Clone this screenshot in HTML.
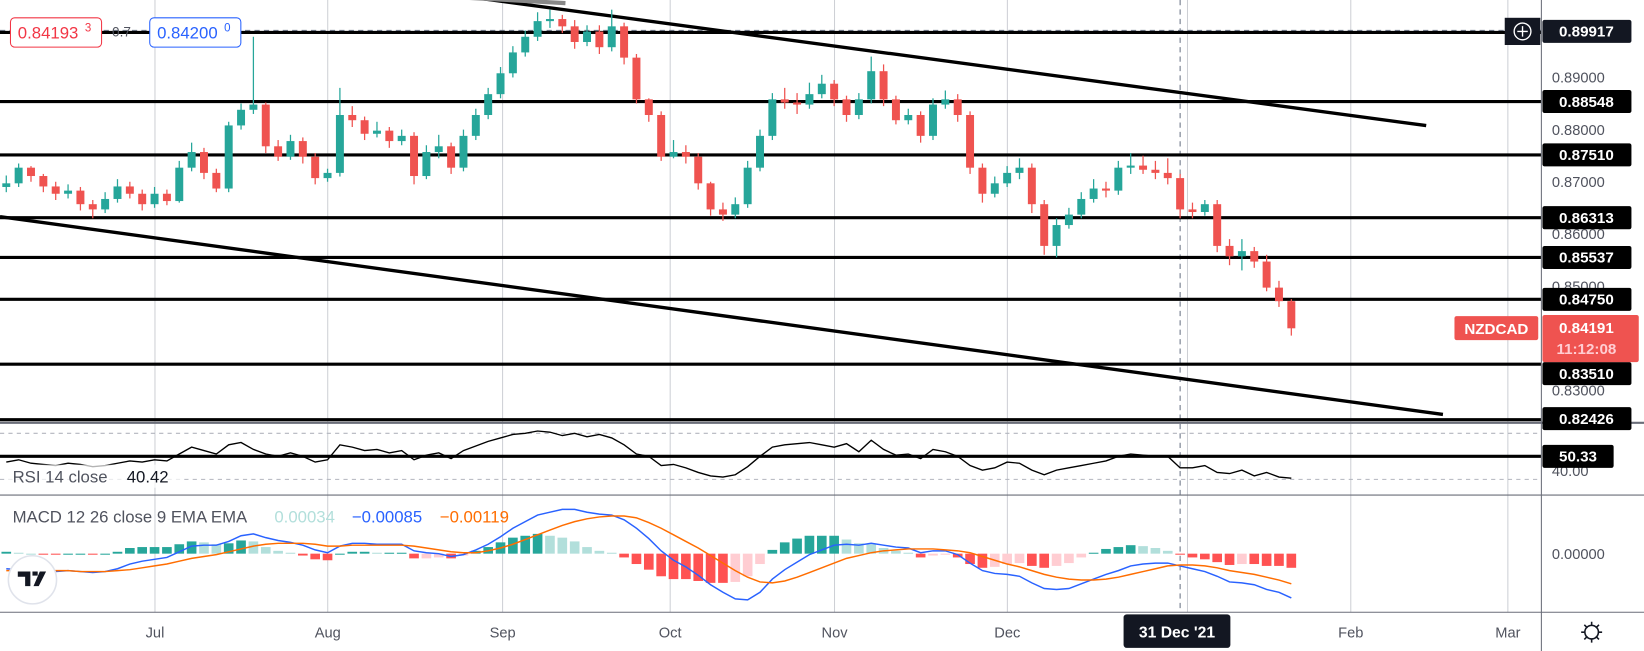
<!DOCTYPE html>
<html><head><meta charset="utf-8"><style>
html,body{margin:0;padding:0;background:#fff;overflow:hidden}
svg{display:block}
text{font-family:"Liberation Sans",sans-serif}
</style></head><body>
<svg id="chart" width="1644" height="651" viewBox="0 0 1570 622" preserveAspectRatio="none" xmlns="http://www.w3.org/2000/svg">
<g id="grid"></g>
<g id="drawings"></g>
<g id="candles"></g>
<g id="rsi"></g>
<g id="macd"></g>
<g id="axes"></g>
</svg>
<script>
const closes=[0.8697,0.8727,0.8711,0.8691,0.8677,0.8683,0.8657,0.8647,0.8667,0.8691,0.8677,0.8657,0.8677,0.8663,0.8727,0.8757,0.8717,0.8687,0.8808,0.8838,0.8848,0.8768,0.8748,0.8778,0.8748,0.8707,0.8717,0.8828,0.8818,0.8792,0.8798,0.8778,0.8788,0.8711,0.8757,0.8768,0.8727,0.8788,0.8828,0.8868,0.8908,0.8948,0.8978,0.9008,0.9012,0.8998,0.8968,0.8988,0.8958,0.8998,0.8938,0.8858,0.8828,0.8748,0.8757,0.8748,0.8697,0.8647,0.8637,0.8657,0.8727,0.8788,0.8858,0.8852,0.8848,0.8868,0.8888,0.8858,0.8828,0.8858,0.8912,0.8858,0.8818,0.8828,0.8788,0.8848,0.8858,0.8828,0.8727,0.8677,0.8697,0.8717,0.8727,0.8657,0.8577,0.8617,0.8637,0.8667,0.8687,0.8683,0.8727,0.8731,0.8723,0.8717,0.8707,0.8647,0.8642,0.8657,0.8577,0.8557,0.8567,0.8547,0.8497,0.8471,0.8419];
const highs=[0.8712,0.8735,0.8730,0.8715,0.8700,0.8695,0.8690,0.8665,0.8680,0.8705,0.8700,0.8685,0.8690,0.8685,0.8740,0.8775,0.8765,0.8725,0.8815,0.8850,0.8978,0.8852,0.8780,0.8790,0.8785,0.8755,0.8725,0.8880,0.8845,0.8825,0.8815,0.8805,0.8800,0.8795,0.8770,0.8790,0.8775,0.8800,0.8840,0.8880,0.8920,0.8960,0.8990,0.9025,0.9030,0.9020,0.9010,0.9000,0.9000,0.9030,0.9005,0.8945,0.8860,0.8835,0.8780,0.8770,0.8755,0.8700,0.8660,0.8670,0.8740,0.8800,0.8870,0.8880,0.8870,0.8890,0.8905,0.8895,0.8865,0.8870,0.8940,0.8925,0.8865,0.8840,0.8835,0.8860,0.8875,0.8868,0.8835,0.8735,0.8710,0.8730,0.8745,0.8735,0.8665,0.8630,0.8650,0.8680,0.8705,0.8700,0.8740,0.8755,0.8750,0.8740,0.8745,0.8715,0.8660,0.8665,0.8665,0.8590,0.8590,0.8575,0.8560,0.8510,0.8475];
const lows=[0.8680,0.8690,0.8700,0.8680,0.8665,0.8668,0.8645,0.8630,0.8640,0.8660,0.8668,0.8645,0.8650,0.8655,0.8660,0.8720,0.8705,0.8680,0.8680,0.8800,0.8830,0.8755,0.8740,0.8742,0.8735,0.8695,0.8700,0.8710,0.8805,0.8780,0.8785,0.8765,0.8770,0.8695,0.8705,0.8745,0.8715,0.8720,0.8780,0.8820,0.8860,0.8900,0.8940,0.8970,0.8995,0.8985,0.8955,0.8960,0.8945,0.8950,0.8925,0.8850,0.8815,0.8740,0.8745,0.8735,0.8685,0.8635,0.8625,0.8630,0.8650,0.8720,0.8780,0.8840,0.8830,0.8840,0.8860,0.8845,0.8815,0.8820,0.8850,0.8845,0.8810,0.8810,0.8775,0.8780,0.8840,0.8815,0.8715,0.8660,0.8670,0.8690,0.8705,0.8640,0.8560,0.8555,0.8610,0.8630,0.8660,0.8670,0.8675,0.8715,0.8715,0.8705,0.8695,0.8630,0.8630,0.8635,0.8565,0.8540,0.8530,0.8535,0.8490,0.8460,0.8405];
const firstOpen=0.8690;
const rsiValues=[45,47,44,43,42,44,43,41,42,44,46,45,47,46,52,58,55,52,60,62,56,52,50,53,50,45,47,60,58,55,56,53,55,47,51,53,48,55,59,63,66,69,70,72,71,68,70,67,69,66,60,52,50,42,43,40,36,33,32,34,41,50,58,60,61,62,60,58,61,54,64,56,51,52,48,56,54,50,42,38,40,45,44,38,34,38,40,42,44,46,50,52,51,50,50,40,40,42,36,35,38,33,36,32,31];
const macdValues=[-0.0016,-0.0017,-0.0018,-0.0019,-0.0019,-0.0018,-0.0019,-0.0020,-0.0019,-0.0016,-0.0011,-0.0008,-0.0006,-0.0004,0.0002,0.0008,0.0009,0.0009,0.0013,0.0019,0.0021,0.0017,0.0014,0.0012,0.0009,0.0004,0.0001,0.0008,0.0011,0.0011,0.0010,0.0010,0.0010,0.0003,0.0001,0.0000,-0.0003,-0.0001,0.0004,0.0010,0.0018,0.0027,0.0034,0.0041,0.0044,0.0047,0.0047,0.0044,0.0042,0.0041,0.0036,0.0027,0.0016,0.0003,-0.0007,-0.0014,-0.0023,-0.0033,-0.0041,-0.0048,-0.0049,-0.0041,-0.0027,-0.0017,-0.0009,-0.0001,0.0004,0.0009,0.0010,0.0009,0.0011,0.0009,0.0007,0.0006,0.0001,0.0003,0.0003,-0.0001,-0.0010,-0.0018,-0.0021,-0.0022,-0.0024,-0.0031,-0.0037,-0.0038,-0.0037,-0.0032,-0.0027,-0.0022,-0.0018,-0.0013,-0.0011,-0.0010,-0.0010,-0.0013,-0.0016,-0.0019,-0.0024,-0.0030,-0.0031,-0.0033,-0.0038,-0.0041,-0.0047];
const signalValues=[-0.0018,-0.0018,-0.0018,-0.0018,-0.0018,-0.0018,-0.0019,-0.0019,-0.0019,-0.0018,-0.0017,-0.0015,-0.0013,-0.0011,-0.0008,-0.0005,-0.0003,-0.0001,0.0002,0.0005,0.0008,0.0010,0.0011,0.0011,0.0011,0.0010,0.0008,0.0008,0.0009,0.0009,0.0009,0.0009,0.0009,0.0008,0.0006,0.0004,0.0002,0.0001,0.0001,0.0003,0.0006,0.0010,0.0015,0.0020,0.0025,0.0030,0.0034,0.0037,0.0039,0.0040,0.0040,0.0038,0.0033,0.0027,0.0020,0.0013,0.0006,-0.0002,-0.0010,-0.0018,-0.0025,-0.0030,-0.0031,-0.0029,-0.0025,-0.0020,-0.0015,-0.0010,-0.0005,-0.0002,0.0001,0.0003,0.0004,0.0005,0.0005,0.0005,0.0004,0.0003,0.0001,-0.0003,-0.0007,-0.0011,-0.0014,-0.0018,-0.0022,-0.0025,-0.0027,-0.0028,-0.0028,-0.0027,-0.0025,-0.0022,-0.0019,-0.0016,-0.0013,-0.0012,-0.0012,-0.0013,-0.0015,-0.0018,-0.0020,-0.0022,-0.0025,-0.0028,-0.0032];
const levelPrices=["0.89917","0.88548","0.87510","0.86313","0.85537","0.84750","0.83510","0.82426"];
const axisTicks=["0.89000","0.88000","0.87000","0.86000","0.85000","0.83000"];
const monthLabels=["Jul","Aug","Sep","Oct","Nov","Dec","Feb","Mar"];

const NS="http://www.w3.org/2000/svg";
function el(parent,tag,attrs,txt){const e=document.createElementNS(NS,tag);for(const k in attrs)e.setAttribute(k,attrs[k]);if(txt!==undefined)e.textContent=txt;parent.appendChild(e);return e;}
const xOf=i=>6+i*11.8;
const yP=p=>74+(0.89-p)*4983;
const yR=v=>436-(v-50)*1.1;
const yM=v=>529-v*9000;
const monthX={Jul:148,Aug:313,Sep:480,Oct:640,Nov:797,Dec:962,Jan:1134,Feb:1290,Mar:1440};
const G=document.getElementById('grid'),D=document.getElementById('drawings'),C=document.getElementById('candles'),R=document.getElementById('rsi'),M=document.getElementById('macd'),A=document.getElementById('axes');

// grid verticals
for(const m in monthX){const l=el(G,'line',{x1:monthX[m],x2:monthX[m],y1:0,y2:585,stroke:'#c9cbd1','stroke-width':0.9});

}
// crosshair
let ch=el(G,'line',{x1:1127,x2:1127,y1:0,y2:585,stroke:'#6a7385','stroke-width':1,'stroke-dasharray':'5,4'});


ch=el(G,'line',{x1:0,x2:1472,y1:29,y2:29,stroke:'#6a7385','stroke-width':1,'stroke-dasharray':'5,4'});


// RSI band dashed
[70,30].forEach(v=>{const l=el(G,'line',{x1:0,x2:1472,y1:yR(v),y2:yR(v),stroke:'#b2b5be','stroke-width':1,'stroke-dasharray':'4,4'});

});

// candles
for(let i=0;i<closes.length;i++){
 const o=i===0?firstOpen:closes[i-1],c=closes[i],up=c>=o,col=up?'#26a69a':'#ef5350',x=xOf(i);
 const g=el(C,'g',{});
 
 
 el(g,'line',{x1:x,x2:x,y1:yP(highs[i]),y2:yP(lows[i]),stroke:col,'stroke-width':1.2});
 const t=Math.min(yP(o),yP(c)),h=Math.max(1.5,Math.abs(yP(o)-yP(c)));
 el(g,'rect',{x:x-3.8,y:t,width:7.6,height:h,fill:col});
}

// horizontal level lines
const levelY=[31,97,148,208,246,286,348,401];
levelY.forEach((y,k)=>{const l=el(D,'line',{x1:0,x2:1472,y1:y,y2:y,stroke:'#000','stroke-width':3});

});
let tl=el(D,'line',{x1:455,x2:1362,y1:-2,y2:120,stroke:'#000','stroke-width':3.2});


tl=el(D,'line',{x1:0,x2:1378,y1:207,y2:396,stroke:'#000','stroke-width':3.2});


tl=el(D,'line',{x1:430,x2:540,y1:-3,y2:3,stroke:'#888','stroke-width':4});


let rl=el(D,'line',{x1:0,x2:1472,y1:436,y2:436,stroke:'#000','stroke-width':3});



// RSI line
let pts=rsiValues.map((v,i)=>xOf(i)+','+yR(v)).join(' ');
let rp=el(R,'polyline',{points:pts,fill:'none',stroke:'#000','stroke-width':1.3});



// MACD histogram
for(let i=0;i<macdValues.length;i++){
 const h=macdValues[i]-signalValues[i],prev=i?macdValues[i-1]-signalValues[i-1]:h;
 let col;
 if(h>=0)col=h>=prev?'#26a69a':'#b2dfdb';else col=h<=prev?'#ff5252':'#ffcdd2';
 const y0=yM(0),y1=yM(h);
 const b=el(M,'rect',{x:xOf(i)-4.6,y:Math.min(y0,y1),width:9.2,height:Math.max(1,Math.abs(y1-y0)),fill:col});
 
 
}
let mp=el(M,'polyline',{points:macdValues.map((v,i)=>xOf(i)+','+yM(v)).join(' '),fill:'none',stroke:'#2962ff','stroke-width':1.4});


mp=el(M,'polyline',{points:signalValues.map((v,i)=>xOf(i)+','+yM(v)).join(' '),fill:'none',stroke:'#ff6d00','stroke-width':1.4});



// pane separators
[[0,404,1570,404],[0,473,1570,473],[0,585,1570,585],[1472,0,1472,622]].forEach((s,k)=>{
 const l=el(A,'line',{x1:s[0],y1:s[1],x2:s[2],y2:s[3],stroke:'#6a6d78','stroke-width':k===0?2:1});
 
 });

// axis ticks
axisTicks.forEach(t=>{const tx=el(A,'text',{x:1482,y:yP(parseFloat(t))+5,'font-size':14,fill:'#50535e'},t);

});
let z=el(A,'text',{x:1482,y:534,'font-size':14,fill:'#50535e'},'0.00000');


z=el(A,'text',{x:1482,y:455,'font-size':14,fill:'#50535e'},'40.00');



// level labels
const labelY=[30,97,148,208,246,286,357,400];
levelPrices.forEach((t,k)=>{const g=el(A,'g',{});
 
 
 el(g,'rect',{x:1473,y:labelY[k]-11,width:85,height:22,rx:2,fill:k===0?'#131722':'#000'});
 el(g,'text',{x:1515,y:labelY[k]+5,'font-size':14.5,'font-weight':'bold',fill:'#fff','text-anchor':'middle'},t);});
let rl2=el(A,'g',{});


el(rl2,'rect',{x:1473,y:425,width:68,height:22,rx:2,fill:'#000'});
el(rl2,'text',{x:1507,y:441,'font-size':14.5,'font-weight':'bold',fill:'#fff','text-anchor':'middle'},'50.33');
// plus button
let pb=el(A,'g',{});


el(pb,'rect',{x:1437,y:17,width:34,height:26,fill:'#131722'});
el(pb,'circle',{cx:1454,cy:30,r:8,fill:'none',stroke:'#fff','stroke-width':1.3});
el(pb,'path',{d:'M1449 30h10M1454 25v10',stroke:'#fff','stroke-width':1.3});
// current price
let cp=el(A,'g',{});


el(cp,'rect',{x:1389,y:302,width:80,height:23,rx:2,fill:'#ef5350'});
el(cp,'text',{x:1429,y:319,'font-size':14.5,'font-weight':'bold',fill:'#fff','text-anchor':'middle'},'NZDCAD');
el(cp,'rect',{x:1473,y:301,width:92,height:45,rx:2,fill:'#ef5350'});
el(cp,'text',{x:1515,y:318,'font-size':14.5,'font-weight':'bold',fill:'#fff','text-anchor':'middle'},'0.84191');
el(cp,'text',{x:1515,y:338,'font-size':14.5,'font-weight':'bold',fill:'#ffcdd2','text-anchor':'middle'},'11:12:08');

// time labels
monthLabels.forEach(m=>{const t=el(A,'text',{x:monthX[m],y:609,'font-size':14,fill:'#50535e','text-anchor':'middle'},m);

});
let dl=el(A,'g',{});


el(dl,'rect',{x:1073,y:587,width:102,height:32,rx:3,fill:'#131722'});
el(dl,'text',{x:1124,y:609,'font-size':15,'font-weight':'bold',fill:'#fff','text-anchor':'middle'},"31 Dec '21");
// gear
let gr=el(A,'g',{});


el(gr,'circle',{cx:1520,cy:604,r:6.5,fill:'none',stroke:'#131722','stroke-width':1.5});
el(gr,'path',{d:'M1520 594v4M1520 610v4M1510 604h4M1526 604h4M1513 597l3 3M1524 608l3 3M1527 597l-3 3M1516 608l-3 3',stroke:'#131722','stroke-width':1.5});

// top-left price boxes
let bx=el(A,'g',{});


el(bx,'rect',{x:10,y:17,width:87,height:28,rx:4,fill:'#fff',stroke:'#f23645','stroke-width':1});
el(bx,'text',{x:17,y:37,'font-size':16,fill:'#f23645'},'0.84193');
el(bx,'text',{x:81,y:30,'font-size':11,fill:'#f23645'},'3');
let sp=el(A,'text',{x:107,y:35,'font-size':13,fill:'#50535e'},'0.7');


bx=el(A,'g',{});


el(bx,'rect',{x:143,y:17,width:87,height:28,rx:4,fill:'#fff',stroke:'#2962ff','stroke-width':1});
el(bx,'text',{x:150,y:37,'font-size':16,fill:'#2962ff'},'0.84200');
el(bx,'text',{x:214,y:30,'font-size':11,fill:'#2962ff'},'0');

// legends
let lg=el(A,'g',{});


el(lg,'rect',{x:8,y:444,width:165,height:22,fill:'#fff','fill-opacity':0.7});
el(lg,'text',{x:12,y:461,'font-size':16,fill:'#50535e'},'RSI 14 close');
el(lg,'text',{x:121,y:461,'font-size':16,fill:'#131722'},'40.42');
lg=el(A,'g',{});


const parts=[['MACD 12 26 close 9 EMA EMA','#50535e',12],['0.00034','#b2dfdb',262],['−0.00085','#2962ff',336],['−0.00119','#ff6d00',420]];
parts.forEach(p=>el(lg,'text',{x:p[2],y:499,'font-size':16,fill:p[1]},p[0]));
// logo
let lo=el(A,'g',{});


el(lo,'circle',{cx:31,cy:554,r:23,fill:'#fff',stroke:'#e0e3eb','stroke-width':1.5});
el(lo,'path',{d:'M17 546h12v14h-5v-9h-7zM31 546h5v4h-5zM38 546h6l-7 14h-5z',fill:'#131722'});
</script>
</body></html>
